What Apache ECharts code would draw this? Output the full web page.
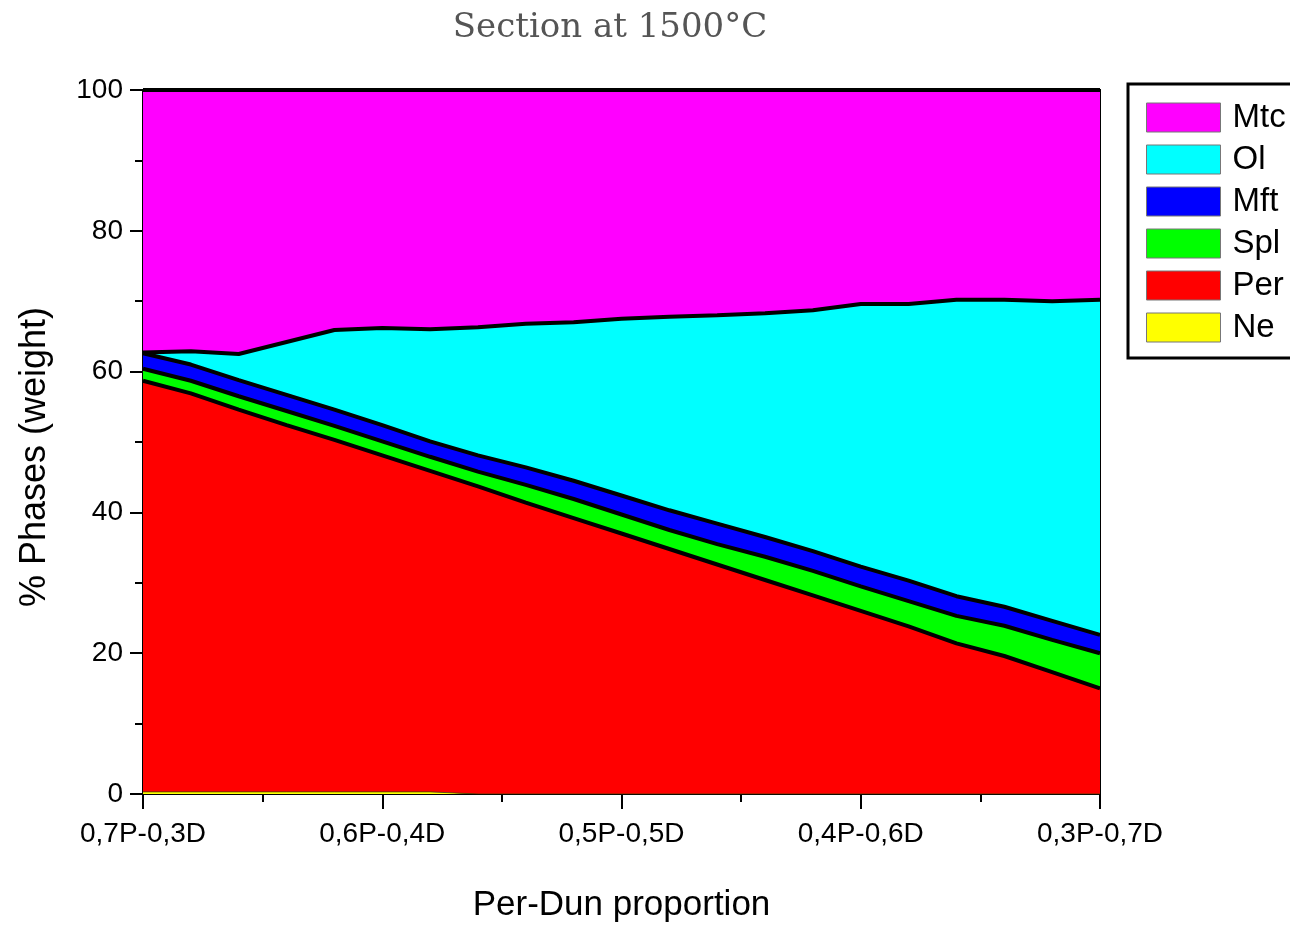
<!DOCTYPE html>
<html>
<head>
<meta charset="utf-8">
<script src="https://cdn.jsdelivr.net/npm/echarts@6/dist/echarts.min.js"></script>
<style>html,body{margin:0;padding:0;background:#fff}#c{width:1290px;height:926px}</style>
</head>
<body>
<div id="c"></div>
<script>
// 21 compositions from 0,7P-0,3D (index 0) to 0,3P-0,7D (index 20), step 0.02
const xIndex = [0,1,2,3,4,5,6,7,8,9,10,11,12,13,14,15,16,17,18,19,20];
const tickLabels = ['0,7P-0,3D','0,6P-0,4D','0,5P-0,5D','0,4P-0,6D','0,3P-0,7D'];
const seriesNames = ['Ne','Per','Spl','Mft','Ol','Mtc'];
const colors = ['#FFFF00','#FF0000','#00FF00','#0000FF','#00FFFF','#FF00FF'];

const ne  = [0.3,0.3,0.3,0.3,0.3,0.3,0.3,0,0,0,0,0,0,0,0,0,0,0,0,0,0];
const per = [58.4,56.6,54.3,52.1,50.0,47.8,45.6,43.7,41.4,39.2,37.0,34.8,32.6,30.4,28.2,26.0,23.8,21.4,19.6,17.3,15.0];
const spl = [1.7,1.8,1.9,2.0,2.0,2.0,2.0,2.1,2.5,2.7,2.7,2.7,2.9,3.3,3.5,3.5,3.6,3.9,4.3,4.6,5.0];
const mft = [2.2,2.3,2.3,2.3,2.3,2.3,2.2,2.3,2.5,2.6,2.7,2.8,2.9,2.8,2.8,2.8,2.9,2.8,2.7,2.7,2.6];
const ol  = [0.1,1.9,3.7,7.5,11.3,13.8,15.9,18.2,20.4,22.5,25.1,27.5,29.6,31.8,34.2,37.3,39.3,42.1,43.6,45.4,47.6];
const mtc = [37.3,37.1,37.5,35.8,34.1,33.8,34.0,33.7,33.2,33.0,32.5,32.2,32.0,31.7,31.3,30.4,30.4,29.8,29.8,30.0,29.8];
const values = [ne, per, spl, mft, ol, mtc];

const chart = echarts.init(document.getElementById('c'), null, {renderer:'canvas'});
const series = seriesNames.map((name, k) => ({
  name: name,
  type: 'line',
  stack: 'total',
  xAxisIndex: 0,
  symbol: 'none',
  data: values[k],
  lineStyle: {color: k === 0 ? '#444400' : '#000', width: k === 0 ? 0.8 : 4},
  itemStyle: {color: colors[k], borderColor: '#777', borderWidth: 1},
  areaStyle: {color: colors[k], opacity: 1},
  emphasis: {disabled: true}
}));

chart.setOption({
  animation: false,
  backgroundColor: '#fff',
  title: {
    text: 'Section at 1500°C',
    left: 605, top: 6, textAlign: 'center',
    textStyle: {fontFamily: 'DejaVu Serif', fontWeight: 'normal', fontSize: 34, color: '#555'}
  },
  grid: {left: 143, right: 190, top: 90, bottom: 132, show: true, borderColor: '#000', borderWidth: 2,
         backgroundColor: 'transparent', containLabel: false, outerBoundsMode: 'none'},
  legend: {
    data: ['Mtc','Ol','Mft','Spl','Per','Ne'],
    orient: 'vertical',
    left: 1128, top: 84,
    padding: [17, 30, 14, 18],
    itemWidth: 74, itemHeight: 29, itemGap: 9,
    icon: 'rect',
    borderColor: '#000', borderWidth: 3,
    backgroundColor: '#fff',
    itemStyle: {borderColor: '#777', borderWidth: 1},
    textStyle: {fontFamily: 'Liberation Sans', fontSize: 33, lineHeight: 33, color: '#000', padding: [0,0,0,7]},
    selectedMode: false
  },
  xAxis: [{
    type: 'category', data: xIndex, boundaryGap: false, show: false, position: 'bottom'
  }, {
    type: 'value', min: 0, max: 20, interval: 5, position: 'bottom',
    name: 'Per-Dun proportion', nameLocation: 'middle', nameGap: 94,
    nameTextStyle: {fontFamily: 'Liberation Sans', fontSize: 35, color: '#000'},
    axisLine: {show: true, onZero: false, lineStyle: {color: '#000', width: 2}},
    axisTick: {show: true, inside: false, length: 15, lineStyle: {color: '#000', width: 2}},
    minorTick: {show: true, splitNumber: 2, length: 8, lineStyle: {color: '#000', width: 2}},
    splitLine: {show: false},
    axisLabel: {margin: 26, fontFamily: 'Liberation Sans', fontSize: 28, color: '#000',
      formatter: v => tickLabels[Math.round(v / 5)]}
  }],
  yAxis: {
    type: 'value', min: 0, max: 100, interval: 20,
    name: '% Phases (weight)', nameLocation: 'middle', nameGap: 90,
    nameTextStyle: {fontFamily: 'Liberation Sans', fontSize: 36, color: '#000', padding: [0, 30, 0, 0]},
    axisLine: {show: true, lineStyle: {color: '#000', width: 2}},
    axisTick: {show: true, length: 13, lineStyle: {color: '#000', width: 2}},
    minorTick: {show: true, splitNumber: 2, length: 8, lineStyle: {color: '#000', width: 2}},
    splitLine: {show: false},
    axisLabel: {margin: 20, fontFamily: 'Liberation Sans', fontSize: 28, color: '#000'}
  },
  series: series
});
</script>
</body>
</html>
